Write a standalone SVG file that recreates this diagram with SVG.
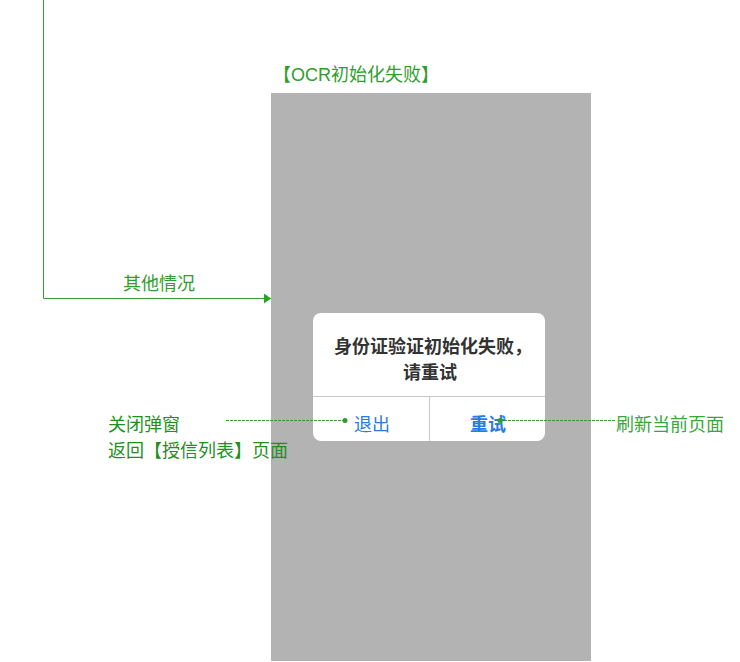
<svg xmlns="http://www.w3.org/2000/svg" width="740" height="662" viewBox="0 0 740 662">
<style>
.lbl{font-family:"Liberation Sans","Noto Sans CJK SC",sans-serif;font-size:18px;fill:#2f9e2f}
.dlg{font-family:"Liberation Sans","Noto Sans CJK SC",sans-serif;font-size:18px;fill:#333;font-weight:bold}
.btn{font-family:"Liberation Sans","Noto Sans CJK SC",sans-serif;font-size:18px;fill:#2a7ae2}
.conn{fill:none;stroke:#2f9e2f;stroke-width:1}
.dash{fill:none;stroke:#2f9e2f;stroke-width:1;stroke-dasharray:3,1}
</style>
<defs>
<marker id="arr" markerWidth="8" markerHeight="10" refX="7" refY="5" orient="auto" markerUnits="userSpaceOnUse">
<path d="M0,0 L7,5 L0,10 Z" fill="#2f9e2f"/>
</marker>
</defs>
<rect width="740" height="662" fill="#fff"/>
<g id="screen">
<text class="lbl" x="273" y="81">【OCR初始化失败】</text>
<rect x="271" y="93" width="320" height="568" fill="#b3b3b3"/>
</g>
<g id="dialog">
<rect x="313" y="313" width="232" height="128" rx="8" fill="#fff"/>
<line x1="313" y1="396.5" x2="545" y2="396.5" stroke="#c8c8c8"/>
<line x1="429.5" y1="397" x2="429.5" y2="441" stroke="#c8c8c8"/>
<text class="dlg" x="433" y="353" text-anchor="middle">身份证验证初始化失败，</text>
<text class="dlg" x="430" y="379" text-anchor="middle">请重试</text>
<text class="btn" x="372" y="431" text-anchor="middle">退出</text>
<text class="btn" x="488" y="431" text-anchor="middle" font-weight="bold">重试</text>
</g>
<g id="connectors">
<polyline class="conn" points="43.5,0 43.5,298.5 271,298.5" marker-end="url(#arr)"/>
<line class="dash" x1="226" y1="420.5" x2="345" y2="420.5"/>
<circle cx="345" cy="420.5" r="2.5" fill="#2f9e2f"/>
<line class="dash" x1="500" y1="420.5" x2="615" y2="420.5"/>
<circle cx="500" cy="420.5" r="2.5" fill="#2f9e2f"/>
</g>
<g id="labels">
<text class="lbl" x="159" y="290" text-anchor="middle">其他情况</text>
<text class="lbl" x="108" y="431" style="fill:#1f8f1f">关闭弹窗</text>
<text class="lbl" x="108" y="457" style="fill:#1f8f1f">返回【授信列表】页面</text>
<text class="lbl" x="616" y="431" style="fill:#3aa53a">刷新当前页面</text>
</g>
</svg>
